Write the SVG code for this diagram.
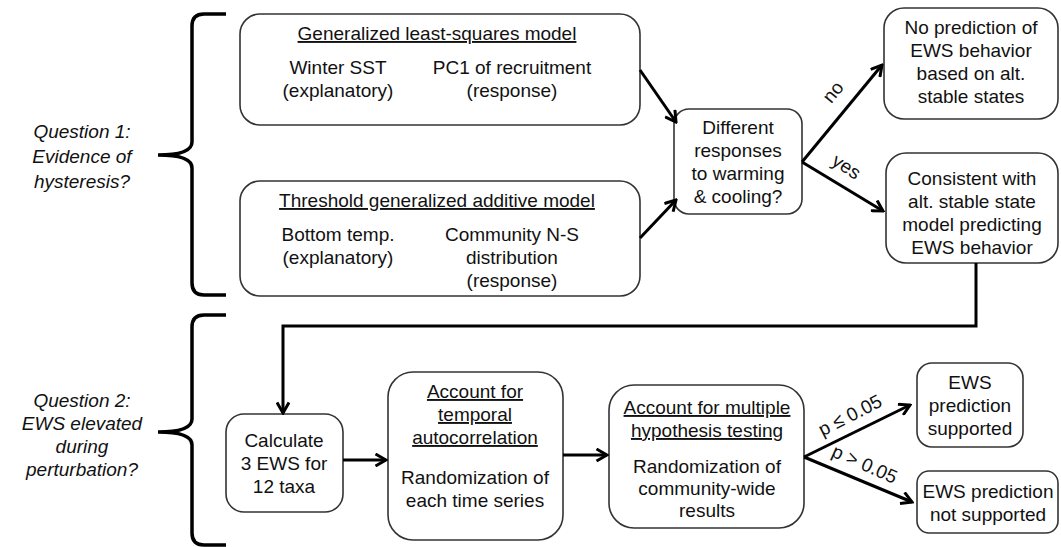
<svg xmlns="http://www.w3.org/2000/svg" width="1061" height="547" viewBox="0 0 1061 547">
  <defs>
    <style>
      .box { fill: #ffffff; stroke: #333333; stroke-width: 1.6; }
      .t { font-family: "Liberation Sans", Arial, sans-serif; font-size: 19px; fill: #111111; text-anchor: middle; }
      .q { font-style: italic; }
      .u { text-decoration: underline; }
      .edge { fill: none; stroke: #000000; stroke-width: 3; }
      .brace { fill: none; stroke: #000000; stroke-width: 3.5; }
    </style>
    <marker id="arrow" viewBox="0 0 14 14" refX="12" refY="7" markerWidth="14" markerHeight="14" markerUnits="userSpaceOnUse" orient="auto">
      <path d="M1.5,1 L12,7 L1.5,13" fill="none" stroke="#000000" stroke-width="3"/>
    </marker>
  </defs>
  <rect width="1061" height="547" fill="#ffffff"/>

  <!-- Question 1 -->
  <g id="question1">
    <text class="t q" x="82" y="138">Question 1:</text>
    <text class="t q" x="82" y="163">Evidence of</text>
    <text class="t q" x="82" y="188">hysteresis?</text>
    <path class="brace" d="M226,14 L204,14 Q192,14 192,26 L192,142 Q192,155 158,155 Q192,155 192,168 L192,283 Q192,295 204,295 L226,295"/>
  </g>

  <!-- Question 2 -->
  <g id="question2">
    <text class="t q" x="82" y="407">Question 2:</text>
    <text class="t q" x="82" y="430">EWS elevated</text>
    <text class="t q" x="82" y="453">during</text>
    <text class="t q" x="82" y="476">perturbation?</text>
    <path class="brace" d="M226,315 L204,315 Q192,315 192,327 L192,419 Q192,432 158,432 Q192,432 192,445 L192,533 Q192,545 204,545 L226,545"/>
  </g>

  <g id="gls">
    <rect class="box" x="240" y="14" width="400" height="111" rx="20"/>
    <text class="t u" x="437" y="40">Generalized least-squares model</text>
    <text class="t" x="338" y="74">Winter SST</text>
    <text class="t" x="338" y="97">(explanatory)</text>
    <text class="t" x="512" y="74">PC1 of recruitment</text>
    <text class="t" x="512" y="97">(response)</text>
  </g>

  <g id="tgam">
    <rect class="box" x="240" y="181" width="400" height="115" rx="20"/>
    <text class="t u" x="437" y="207">Threshold generalized additive model</text>
    <text class="t" x="338" y="241">Bottom temp.</text>
    <text class="t" x="338" y="264">(explanatory)</text>
    <text class="t" x="512" y="241">Community N-S</text>
    <text class="t" x="512" y="264">distribution</text>
    <text class="t" x="512" y="287">(response)</text>
  </g>

  <g id="different">
    <rect class="box" x="674" y="109" width="128" height="105" rx="15"/>
    <text class="t" x="738" y="134">Different</text>
    <text class="t" x="738" y="157">responses</text>
    <text class="t" x="738" y="180">to warming</text>
    <text class="t" x="738" y="203">&amp; cooling?</text>
  </g>

  <g id="noprediction">
    <rect class="box" x="884" y="8" width="174" height="111" rx="20"/>
    <text class="t" x="971" y="34">No prediction of</text>
    <text class="t" x="971" y="57">EWS behavior</text>
    <text class="t" x="971" y="80">based on alt.</text>
    <text class="t" x="971" y="103">stable states</text>
  </g>

  <g id="consistent">
    <rect class="box" x="886" y="153" width="172" height="110" rx="20"/>
    <text class="t" x="972" y="185">Consistent with</text>
    <text class="t" x="972" y="208">alt. stable state</text>
    <text class="t" x="972" y="231">model predicting</text>
    <text class="t" x="972" y="254">EWS behavior</text>
  </g>

  <g id="calculate">
    <rect class="box" x="226" y="414" width="117" height="98" rx="18"/>
    <text class="t" x="284" y="447">Calculate</text>
    <text class="t" x="284" y="470">3 EWS for</text>
    <text class="t" x="284" y="493">12 taxa</text>
  </g>

  <g id="temporal">
    <rect class="box" x="388" y="372" width="175" height="168" rx="25"/>
    <text class="t u" x="475" y="398">Account for</text>
    <text class="t u" x="475" y="421">temporal</text>
    <text class="t u" x="475" y="444">autocorrelation</text>
    <text class="t" x="475" y="484">Randomization of</text>
    <text class="t" x="475" y="507">each time series</text>
  </g>

  <g id="multiple">
    <rect class="box" x="609" y="385" width="195" height="143" rx="25"/>
    <text class="t u" x="707" y="414">Account for multiple</text>
    <text class="t u" x="707" y="437">hypothesis testing</text>
    <text class="t" x="707" y="473">Randomization of</text>
    <text class="t" x="707" y="495">community-wide</text>
    <text class="t" x="707" y="517">results</text>
  </g>

  <g id="supported">
    <rect class="box" x="917" y="363" width="106" height="84" rx="15"/>
    <text class="t" x="970" y="389">EWS</text>
    <text class="t" x="970" y="412">prediction</text>
    <text class="t" x="970" y="435">supported</text>
  </g>

  <g id="notsupported">
    <rect class="box" x="917" y="471" width="141" height="62" rx="12"/>
    <text class="t" x="988" y="498">EWS prediction</text>
    <text class="t" x="988" y="521">not supported</text>
  </g>

  <!-- connectors -->
  <g id="connectors">
    <line class="edge" x1="640" y1="70" x2="676" y2="122" marker-end="url(#arrow)"/>
    <line class="edge" x1="640" y1="238" x2="676" y2="200" marker-end="url(#arrow)"/>
    <line class="edge" x1="802" y1="162" x2="882" y2="65" marker-end="url(#arrow)"/>
    <line class="edge" x1="802" y1="162" x2="883" y2="211" marker-end="url(#arrow)"/>
    <polyline class="edge" points="976,263 976,326 283,326 283,413" marker-end="url(#arrow)"/>
    <line class="edge" x1="343" y1="460" x2="386" y2="460" marker-end="url(#arrow)"/>
    <line class="edge" x1="563" y1="455" x2="607" y2="455" marker-end="url(#arrow)"/>
    <line class="edge" x1="804" y1="457" x2="910" y2="405" marker-end="url(#arrow)"/>
    <line class="edge" x1="804" y1="457" x2="912" y2="502" marker-end="url(#arrow)"/>
    <text class="t" transform="translate(838,96) rotate(-51)">no</text>
    <text class="t" transform="translate(843,172) rotate(33)">yes</text>
    <text class="t" transform="translate(853,421) rotate(-27)">p ≤ 0.05</text>
    <text class="t" transform="translate(862,470) rotate(24)">p &gt; 0.05</text>
  </g>
</svg>
